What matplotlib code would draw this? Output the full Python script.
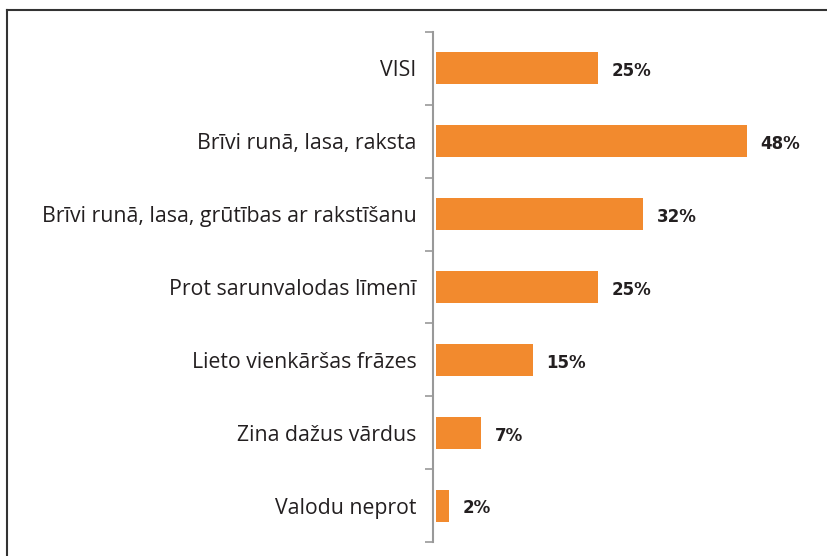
import matplotlib
matplotlib.use("Agg")
import matplotlib.pyplot as plt
from matplotlib.lines import Line2D

kategorijas = ['VISI', 'Brīvi runā, lasa, raksta', 'Brīvi runā, lasa, grūtības ar rakstīšanu',
               'Prot sarunvalodas līmenī', 'Lieto vienkāršas frāzes', 'Zina dažus vārdus',
               'Valodu neprot']
vertibas = [25, 48, 32, 25, 15, 7, 2]

plt.rcParams['font.family'] = ['Open Sans', 'DejaVu Sans']

fig = plt.figure(figsize=(8.27, 5.56), dpi=100)
ax = fig.add_axes([433 / 827, 1 - 542 / 556, 389 / 827, 510 / 556])

n = len(kategorijas)
pos = list(range(n))
ax.barh(pos, vertibas, height=0.44, color='#F28A2E', left=0.4)
ax.set_ylim(n - 0.5, -0.5)
ax.set_xlim(0, 60)

for y, v in zip(pos, vertibas):
    ax.text(v + 0.4 + 2.1, y + 0.04, f'{v}%', va='center', ha='left', fontsize=12,
            fontweight='bold', color='#231F20', family='DejaVu Sans')

ax.set_yticks(pos)
ax.set_yticklabels(kategorijas, fontsize=15.3, color='#231F20')
ax.set_yticks([i - 0.5 for i in range(n + 1)], minor=True)
ax.tick_params(axis='y', which='major', length=0, pad=12)
ax.tick_params(axis='y', which='minor', length=6, width=1.2, color='#999999')
ax.set_xticks([])
for s in ['top', 'right', 'bottom']:
    ax.spines[s].set_visible(False)
ax.spines['left'].set_color('#999999')
ax.spines['left'].set_linewidth(1.5)

# rāmis ap attēlu
fig.add_artist(Line2D([7 / 827, 1.01], [1 - 10 / 556, 1 - 10 / 556], color='#333333', lw=1.5,
                      transform=fig.transFigure))
fig.add_artist(Line2D([7 / 827, 7 / 827], [-0.01, 1 - 10 / 556], color='#333333', lw=1.5,
                      transform=fig.transFigure))

fig.savefig('out.png', dpi=100)
